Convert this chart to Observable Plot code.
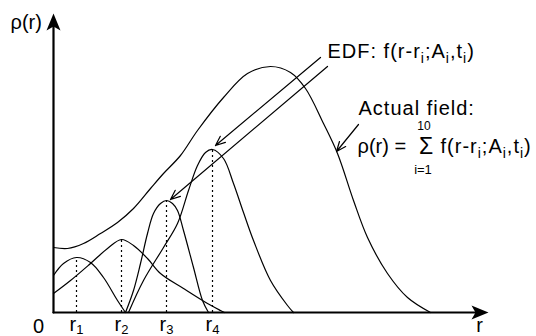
<!DOCTYPE html>
<html>
<head>
<meta charset="utf-8">
<script src="https://cdn.jsdelivr.net/npm/d3@7"></script>
<script src="https://cdn.jsdelivr.net/npm/@observablehq/plot@0.6"></script>
<style>
  html, body { margin: 0; padding: 0; background: #fff; overflow: hidden; }
  #chart svg { display: block; }
</style>
</head>
<body>
<div id="chart"></div>
<script>
// ---- data (r, rho) in arbitrary units ----
const envelope = [[0,65],[14,64],[30,69],[47,79],[64,90],[80,104],[97,124],[110,139],[127,157],[144,182],[170,215],[194,239],[217,246],[237,240],[252,224],[270,189],[284,159],[300,112],[314,75],[334,39],[354,15],[377,0]];
const edf1 = [[0,37],[10,49],[23,55],[37,50],[50,35],[64,12],[72,0]];
const edf2 = [[0,19],[17,32],[37,49],[54,64],[68,73],[80,67],[94,54],[107,39],[130,24],[154,9],[167,2],[171,0]];
const edf3 = [[72,0],[80,22],[87,49],[94,79],[100,99],[107,109],[113,112],[119,109],[124,102],[130,82],[140,45],[149,12],[155,0]];
const edf4 = [[75,0],[90,32],[110,65],[124,89],[135,122],[144,147],[152,160],[159,163],[170,154],[180,129],[190,100],[200,72],[217,32],[234,7],[240,0]];

const centers = [23, 68, 113, 159];
const peaks = [55, 73, 112, 163];
const centerLabels = ["r_1", "r_2", "r_3", "r_4"];

const axisX = [[0,0],[430,0]];
const axisY = [[0,0],[0,290]];
const axisTips = [{r: 0, rho: 299, rot: 0}, {r: 435, rho: 0, rot: 90}];

// annotation arrows: from (r1,rho1) to (r2,rho2)
const arrows = [
  {r1: 267, rho1: 255, r2: 162, rho2: 167},
  {r1: 274, rho1: 246, r2: 117, rho2: 113},
  {r1: 305, rho1: 188, r2: 283, rho2: 161}
];

// text labels (left-aligned)
const startLabels = [
  {r: -43, rho: 284, text: "ρ(r)", size: 20},
  {r: 274, rho: 255, text: "EDF: f(r-r_i;A_i,t_i)", size: 20},
  {r: 305, rho: 198, text: "Actual field:", size: 20},
  {r: 304, rho: 160, text: "ρ(r) =", size: 20},
  {r: 387, rho: 160, text: "f(r-r_i;A_i,t_i)", size: 20}
];
// text labels (centred)
const middleLabels = [
  {r: -15, rho: -20, text: "0", size: 20},
  {r: 426, rho: -19, text: "r", size: 20},
  {r: 372.5, rho: 159, text: "Σ", size: 23},
  {r: 370.5, rho: 182.5, text: "10", size: 12},
  {r: 369.5, rho: 139, text: "i=1", size: 13}
];

// ---- drawing ----
const arrowHead = {
  draw(ctx) {
    ctx.moveTo(0, 0);
    ctx.lineTo(7, 17);
    ctx.lineTo(0, 13);
    ctx.lineTo(-7, 17);
    ctx.closePath();
  }
};

const lineOpts = {x: d => d[0], y: d => d[1], curve: "catmull-rom", stroke: "black", strokeWidth: 1.2};

const plot = Plot.plot({
  width: 536,
  height: 336,
  marginLeft: 53,
  marginRight: 0,
  marginTop: 0,
  marginBottom: 24,
  x: {domain: [0, 483], axis: null},
  y: {domain: [0, 312], axis: null},
  style: {fontFamily: "'Liberation Sans', Arial, Helvetica, sans-serif", background: "white", color: "black"},
  marks: [
    Plot.ruleX(centers, {x: d => d, y1: 0, y2: (d, i) => peaks[i], stroke: "black", strokeWidth: 1.2, strokeDasharray: "2,3"}),
    Plot.line(envelope, lineOpts),
    Plot.line(edf1, lineOpts),
    Plot.line(edf2, lineOpts),
    Plot.line(edf3, lineOpts),
    Plot.line(edf4, lineOpts),
    Plot.arrow(arrows, {x1: "r1", y1: "rho1", x2: "r2", y2: "rho2", stroke: "black", strokeWidth: 1.2, headLength: 13, headAngle: 45}),
    Plot.line(axisX, {x: d => d[0], y: d => d[1], stroke: "black", strokeWidth: 2.2}),
    Plot.line(axisY, {x: d => d[0], y: d => d[1], stroke: "black", strokeWidth: 2.2}),
    Plot.dot(axisTips, {x: "r", y: "rho", symbol: arrowHead, rotate: "rot", fill: "black", stroke: "none"}),
    Plot.text(centers, {x: d => d, y: -18, text: (d, i) => centerLabels[i], fontSize: 20, textAnchor: "middle", lineAnchor: "bottom", fill: "black"}),
    Plot.text(startLabels, {x: "r", y: "rho", text: "text", fontSize: "size", textAnchor: "start", lineAnchor: "bottom", fill: "black"}),
    Plot.text(middleLabels, {x: "r", y: "rho", text: "text", fontSize: "size", textAnchor: "middle", lineAnchor: "bottom", fill: "black"})
  ]
});

// subscripts: "_x" -> subscript x
d3.select(plot).selectAll("text").each(function () {
  const t = this.textContent;
  if (!t.includes("_")) return;
  const el = d3.select(this);
  const fs = parseFloat(el.attr("font-size")) || 20;
  const bottomLabel = /^r_\d$/.test(t);
  const shift = bottomLabel ? 3 : fs * 0.28;
  const subSize = bottomLabel ? 13 : fs * 0.7;
  el.text(null);
  let shifted = false;
  for (const p of t.split(/(_\w)/)) {
    if (!p) continue;
    if (p[0] === "_") {
      el.append("tspan").attr("font-size", subSize).attr("dy", shifted ? 0 : shift).text(p.slice(1));
      shifted = true;
    } else {
      el.append("tspan").attr("dy", shifted ? -shift : null).text(p);
      shifted = false;
    }
  }
});
d3.select(plot).selectAll("text").filter(function () {
  const s = this.textContent;
  return s.startsWith("EDF") || s.startsWith("Actual") || s.startsWith("f(");
}).attr("letter-spacing", 1);

document.getElementById("chart").appendChild(plot);
</script>
</body>
</html>
